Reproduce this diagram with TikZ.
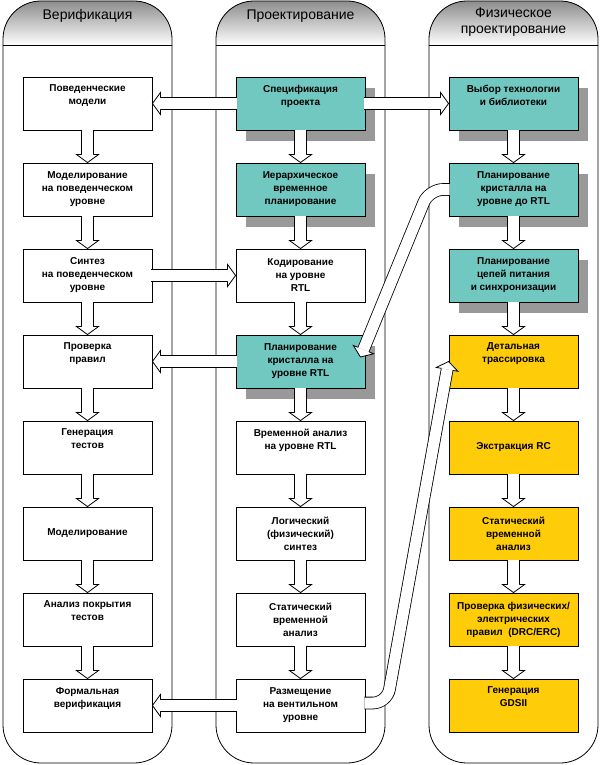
\documentclass[tikz,border=0pt]{standalone}
\usepackage{fontspec}
\setmainfont{Liberation Sans}
\usetikzlibrary{calc,shadows}

\tikzset{
  panel/.style={draw, line width=0.8pt, rounded corners=38pt},
  headfill/.style={top color=black!45, bottom color=white},
  headtext/.style={font=\fontsize{14}{16}\selectfont, align=center},
  stage/.style={draw, line width=0.9pt, fill=white, minimum width=129pt, minimum height=53pt,
    inner sep=2pt, align=center, font=\fontsize{10}{13}\selectfont\bfseries},
  designstage/.style={stage, fill=stagecyan,
    drop shadow={shadow xshift=10pt, shadow yshift=-11pt, fill=black!40, opacity=1}},
  physstage/.style={stage, fill=stageyellow},
  stem/.style={double=white, double distance=11pt, line width=0.8pt, rounded corners=14pt},
  tipline/.style={line width=0.8pt, line join=miter}
}

% hollow block arrow: stem path, last bend point, tip
\newcommand{\blockflow}[3]{%
  \coordinate (ht) at #3;
  \coordinate (hb) at ($#3!8pt!#2$);
  \draw[stem] #1 -- (hb);
  \fill[white] ($(hb)!6pt!90:(ht)$) -- ($(hb)!11pt!90:(ht)$) -- (ht)
    -- ($(hb)!11pt!-90:(ht)$) -- ($(hb)!6pt!-90:(ht)$) -- cycle;
  \draw[tipline] ($(hb)!5.9pt!90:(ht)$) -- ($(hb)!11pt!90:(ht)$) -- (ht)
    -- ($(hb)!11pt!-90:(ht)$) -- ($(hb)!5.9pt!-90:(ht)$);
}

\begin{document}
\begin{tikzpicture}[x=1pt, y=-1pt]
  \definecolor{stagecyan}{HTML}{70C8C0}
  \definecolor{stageyellow}{HTML}{FFCC0A}
  \useasboundingbox (0,0) rectangle (600,765);

  % three panels with shaded tabs
  \foreach \x in {3,216,429} {
    \begin{scope}
      \clip[rounded corners=38pt] (\x,1) rectangle (\x+169,763);
      \fill[headfill] (\x,1) rectangle (\x+169,45);
    \end{scope}
    \draw[panel] (\x,1) rectangle (\x+169,763);
    \draw[line width=0.8pt] (\x,45) -- (\x+169,45);
  }
  \node[headtext, anchor=base] (hv) at (87.5,19.5) {Верификация};
  \node[headtext, anchor=base] (hp) at (300.5,19.5) {Проектирование};
  \node[headtext, anchor=north, inner sep=0pt] (hf) at (513.5,8) {Физическое\\проектирование};

  % verification
  \node[stage] (l1) at (87.5,103.5) {Поведенческие\\модели\\\strut};
  \node[stage] (l2) at (87.5,189.5) {Моделирование\\на поведенческом\\уровне};
  \node[stage] (l3) at (87.5,275.5) {Синтез\\на поведенческом\\уровне};
  \node[stage] (l4) at (87.5,361.5) {Проверка\\правил\\\strut};
  \node[stage] (l5) at (87.5,447.5) {Генерация\\тестов\\\strut};
  \node[stage] (l6) at (87.5,533.5) {Моделирование};
  \node[stage] (l7) at (87.5,619.5) {Анализ покрытия\\тестов\\\strut};
  \node[stage] (l8) at (87.5,705.5) {Формальная\\верификация\\\strut};

  % design
  \node[designstage] (m1) at (300.5,103.5) {Спецификация\\проекта\\\strut};
  \node[designstage] (m2) at (300.5,189.5) {Иерархическое\\временное\\планирование};
  \node[stage] (m3) at (300.5,275.5) {Кодирование\\на уровне\\RTL};
  \node[designstage] (m4) at (300.5,361.5) {Планирование\\кристалла на\\уровне RTL};
  \node[stage] (m5) at (300.5,447.5) {Временной анализ\\на уровне RTL\\\strut};
  \node[stage] (m6) at (300.5,533.5) {Логический\\(физический)\\синтез};
  \node[stage] (m7) at (300.5,619.5) {Статический\\временной\\анализ};
  \node[stage] (m8) at (300.5,705.5) {Размещение\\на вентильном\\уровне};

  % physical design
  \node[designstage] (r1) at (513.5,103.5) {Выбор технологии\\и библиотеки\\\strut};
  \node[designstage] (r2) at (513.5,189.5) {Планирование\\кристалла на\\уровне до RTL};
  \node[designstage] (r3) at (513.5,275.5) {Планирование\\цепей питания\\и синхронизации};
  \node[physstage] (r4) at (513.5,361.5) {Детальная\\трассировка\\\strut};
  \node[physstage] (r5) at (513.5,447.5) {Экстракция RC};
  \node[physstage] (r6) at (513.5,533.5) {Статический\\временной\\анализ};
  \node[physstage] (r7) at (513.5,619.5) {Проверка физических/\\электрических\\правил~ (DRC/ERC)};
  \node[physstage] (r8) at (513.5,705.5) {Генерация\\GDSII\\\strut};

  % flow down each column
  \foreach \c in {l,m,r} {
    \foreach \i [count=\j from 2] in {1,...,7} {
      \blockflow{(\c\i.south)}{(\c\i.south)}{(\c\j.north)}
    }
  }

  % links between columns
  \blockflow{([xshift=1.5pt]m1.west)}{(m1.west)}{(l1.east)}
  \blockflow{([xshift=-1.5pt]m1.east)}{(m1.east)}{(r1.west)}
  \blockflow{([xshift=-1.5pt]l3.east)}{(l3.east)}{(m3.west)}
  \blockflow{([xshift=1.5pt]m4.west)}{(m4.west)}{(l4.east)}
  \blockflow{([xshift=1.5pt]m8.west)}{(m8.west)}{(l8.east)}
  \blockflow{([xshift=1pt]r2.west) -- (429,189.5)}{(429,189.5)}{([xshift=-5pt,yshift=4.5pt]m4.east)}
  \blockflow{([xshift=-1pt,yshift=2.5pt]m8.east) -- (387,703)}{(387,703)}{(r4.west)}
\end{tikzpicture}
\end{document}
